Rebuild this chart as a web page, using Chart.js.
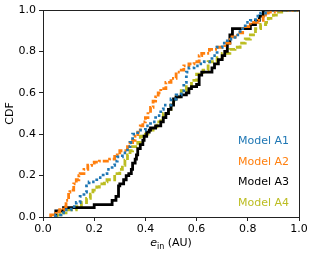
<!DOCTYPE html>
<html>
<head>
<meta charset="utf-8">
<script src="https://cdn.jsdelivr.net/npm/chart.js@4/dist/chart.umd.min.js"></script>
<style>
  html, body { margin: 0; padding: 0; background: #fff; }
  #wrap { width: 314px; height: 254px; }
</style>
</head>
<body>
<div id="wrap"><canvas id="cdf"></canvas></div>
<script>
const seriesNames = ['Model A1', 'Model A2', 'Model A3', 'Model A4'];
const seriesColors = ['#1f77b4', '#ff7f0e', '#000000', '#bcbd22'];

// values (x = e_in in AU, y = CDF)
const a1X = [0.05, 0.07, 0.08, 0.11, 0.13, 0.145, 0.16, 0.17, 0.18, 0.21, 0.235, 0.25, 0.27, 0.28, 0.29, 0.31, 0.33, 0.34, 0.35, 0.37, 0.40, 0.42, 0.44, 0.46, 0.47, 0.50, 0.52, 0.54, 0.55, 0.56, 0.57, 0.59, 0.61, 0.63, 0.66, 0.68, 0.70, 0.72, 0.75, 0.77, 0.79, 0.81, 0.83, 0.85, 0.88, 0.90, 1.0];
const a1Y = [0.0, 0.01, 0.02, 0.035, 0.05, 0.07, 0.10, 0.12, 0.15, 0.17, 0.19, 0.21, 0.23, 0.25, 0.27, 0.29, 0.31, 0.34, 0.36, 0.40, 0.42, 0.44, 0.46, 0.49, 0.52, 0.54, 0.57, 0.59, 0.61, 0.65, 0.70, 0.72, 0.73, 0.74, 0.75, 0.78, 0.82, 0.84, 0.86, 0.88, 0.91, 0.94, 0.95, 0.97, 0.985, 1.0, 1.0];

const a2X = [0.03, 0.05, 0.065, 0.08, 0.09, 0.10, 0.105, 0.12, 0.13, 0.14, 0.145, 0.16, 0.175, 0.19, 0.20, 0.22, 0.26, 0.28, 0.29, 0.30, 0.33, 0.34, 0.35, 0.36, 0.37, 0.38, 0.39, 0.40, 0.41, 0.42, 0.43, 0.44, 0.45, 0.46, 0.48, 0.50, 0.52, 0.54, 0.55, 0.57, 0.59, 0.61, 0.62, 0.65, 0.68, 0.71, 0.73, 0.76, 0.78, 0.81, 0.84, 0.86, 0.88, 0.91, 0.92, 1.0];
const a2Y = [0.0, 0.01, 0.025, 0.035, 0.05, 0.08, 0.12, 0.13, 0.16, 0.18, 0.20, 0.21, 0.23, 0.25, 0.26, 0.265, 0.27, 0.28, 0.30, 0.31, 0.32, 0.34, 0.36, 0.37, 0.39, 0.41, 0.44, 0.46, 0.48, 0.51, 0.53, 0.56, 0.58, 0.60, 0.62, 0.65, 0.67, 0.70, 0.71, 0.73, 0.74, 0.75, 0.78, 0.79, 0.81, 0.82, 0.84, 0.87, 0.89, 0.92, 0.94, 0.95, 0.975, 0.99, 1.0, 1.0];

const a3X = [0.05, 0.08, 0.20, 0.27, 0.285, 0.295, 0.30, 0.315, 0.325, 0.335, 0.345, 0.35, 0.36, 0.365, 0.37, 0.38, 0.39, 0.395, 0.405, 0.415, 0.42, 0.44, 0.46, 0.47, 0.48, 0.49, 0.50, 0.51, 0.52, 0.54, 0.56, 0.57, 0.58, 0.60, 0.61, 0.62, 0.66, 0.67, 0.685, 0.70, 0.71, 0.72, 0.73, 0.74, 0.81, 0.83, 0.845, 0.86, 0.875, 1.0];
const a3Y = [0.0, 0.03, 0.045, 0.06, 0.08, 0.10, 0.15, 0.16, 0.18, 0.20, 0.21, 0.23, 0.26, 0.28, 0.30, 0.33, 0.35, 0.37, 0.39, 0.41, 0.42, 0.43, 0.44, 0.46, 0.48, 0.50, 0.52, 0.54, 0.57, 0.58, 0.59, 0.60, 0.62, 0.63, 0.64, 0.685, 0.70, 0.72, 0.74, 0.76, 0.78, 0.80, 0.84, 0.88, 0.91, 0.93, 0.95, 0.97, 1.0, 1.0];

const a4X = [0.055, 0.07, 0.09, 0.13, 0.15, 0.17, 0.185, 0.195, 0.21, 0.22, 0.24, 0.25, 0.28, 0.30, 0.31, 0.32, 0.33, 0.34, 0.35, 0.37, 0.38, 0.40, 0.41, 0.43, 0.445, 0.46, 0.47, 0.49, 0.50, 0.51, 0.52, 0.54, 0.56, 0.58, 0.60, 0.625, 0.645, 0.68, 0.70, 0.73, 0.75, 0.77, 0.79, 0.81, 0.83, 0.85, 0.87, 0.88, 0.90, 0.92, 0.94, 0.99, 1.0];
const a4Y = [0.0, 0.01, 0.02, 0.035, 0.05, 0.07, 0.09, 0.11, 0.13, 0.145, 0.16, 0.17, 0.18, 0.21, 0.23, 0.25, 0.275, 0.30, 0.32, 0.34, 0.36, 0.39, 0.40, 0.42, 0.435, 0.46, 0.48, 0.50, 0.52, 0.54, 0.565, 0.58, 0.61, 0.63, 0.66, 0.69, 0.71, 0.75, 0.77, 0.79, 0.81, 0.82, 0.84, 0.86, 0.88, 0.91, 0.93, 0.94, 0.96, 0.975, 0.99, 1.0, 1.0];

const xTicks = [0, 0.2, 0.4, 0.6, 0.8, 1.0];
const yTicks = [0, 0.2, 0.4, 0.6, 0.8, 1.0];

const seriesX = [a1X, a2X, a3X, a4X];
const seriesY = [a1Y, a2Y, a3Y, a4Y];
// dotted, dash-dot, solid, dashed
const dashes = [[2.5, 3], [6, 2, 2, 2], [], [6, 2.5]];

const FONT = 'DejaVu Sans';

const datasets = seriesNames.map((name, i) => ({
  label: name,
  data: seriesX[i].map((x, j) => ({ x, y: seriesY[i][j] })),
  borderColor: seriesColors[i],
  borderWidth: 2.8,
  borderDash: dashes[i],
  borderCapStyle: 'butt',
  stepped: 'after',
  pointRadius: 0,
  fill: false,
}));

const extras = {
  id: 'extras',
  afterDraw(chart) {
    const { ctx, chartArea: a } = chart;
    ctx.save();
    // box round the plot, like matplotlib spines
    ctx.strokeStyle = '#222';
    ctx.lineWidth = 1;
    ctx.strokeRect(Math.round(a.left) + 0.5, Math.round(a.top) + 0.5, Math.round(a.right - a.left), Math.round(a.bottom - a.top));

    // text legend, coloured labels only
    ctx.font = `11px "${FONT}"`;
    ctx.textAlign = 'right';
    ctx.textBaseline = 'middle';
    chart.data.datasets.forEach((ds, i) => {
      ctx.fillStyle = ds.borderColor;
      ctx.fillText(ds.label, a.right - 10, 141.5 + i * 20.5);
    });

    // y title
    ctx.fillStyle = '#000';
    ctx.textAlign = 'center';
    ctx.save();
    ctx.translate(10, (a.top + a.bottom) / 2);
    ctx.rotate(-Math.PI / 2);
    ctx.fillText('CDF', 0, 0);
    ctx.restore();

    // x title: italic e, subscript "in", then (AU)
    const yb = 246;
    ctx.textAlign = 'left';
    ctx.textBaseline = 'alphabetic';
    ctx.font = `italic 11px "${FONT}"`;
    const wE = ctx.measureText('e').width;
    ctx.font = `8px "${FONT}"`;
    const wSub = ctx.measureText('in').width;
    ctx.font = `11px "${FONT}"`;
    const wRest = ctx.measureText(' (AU)').width;
    let x = (a.left + a.right) / 2 - (wE + wSub + wRest) / 2;
    ctx.font = `italic 11px "${FONT}"`;
    ctx.fillText('e', x, yb);
    x += wE;
    ctx.font = `8px "${FONT}"`;
    ctx.fillText('in', x, yb + 3);
    x += wSub;
    ctx.font = `11px "${FONT}"`;
    ctx.fillText(' (AU)', x, yb);
    ctx.restore();
  },
};

new Chart(document.getElementById('cdf'), {
  type: 'line',
  data: { datasets },
  options: {
    responsive: true,
    maintainAspectRatio: false,
    animation: false,
    layout: { padding: { top: 10, right: 15, left: 0, bottom: 0 } },
    plugins: { legend: { display: false }, tooltip: { enabled: false } },
    scales: {
      x: {
        type: 'linear',
        min: 0,
        max: 1,
        afterBuildTicks: (s) => { s.ticks = xTicks.map((v) => ({ value: v })); },
        afterFit: (s) => { s.height = 37; },
        ticks: { color: '#000', font: { family: FONT, size: 11 }, padding: 2, maxRotation: 0, callback: (v) => v.toFixed(1) },
        grid: { display: true, drawOnChartArea: false, tickLength: 4, color: '#222' },
        border: { display: true, color: '#222' },
      },
      y: {
        type: 'linear',
        min: 0,
        max: 1,
        afterBuildTicks: (s) => { s.ticks = yTicks.map((v) => ({ value: v })); },
        afterFit: (s) => { s.width = 43; },
        ticks: { color: '#000', font: { family: FONT, size: 11 }, padding: 3, callback: (v) => v.toFixed(1) },
        grid: { display: true, drawOnChartArea: false, tickLength: 4, color: '#222' },
        border: { display: true, color: '#222' },
      },
    },
  },
  plugins: [extras],
});
</script>
</body>
</html>
